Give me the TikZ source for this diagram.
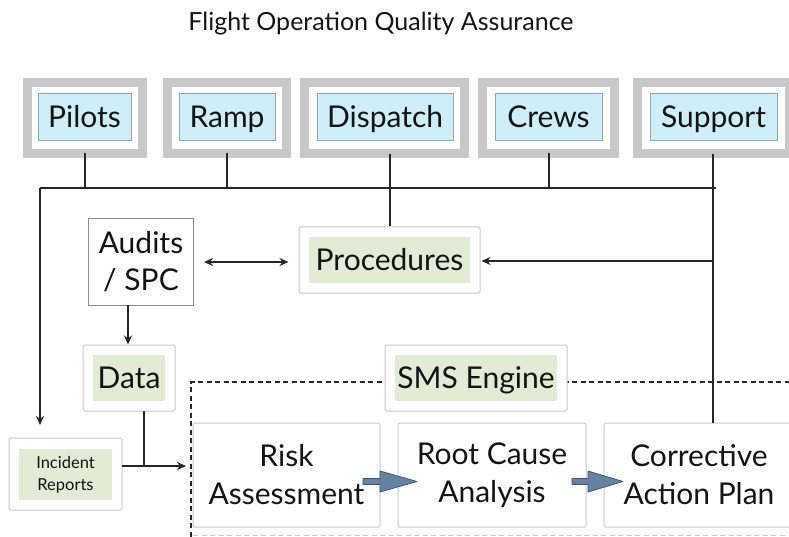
\documentclass[tikz,border=0pt]{standalone}
\usepackage{fontspec}
\setmainfont{Lato}
\usetikzlibrary{arrows.meta}
\definecolor{framegray}{HTML}{C8C8C8}
\definecolor{boxblue}{HTML}{CDEEFA}
\definecolor{bluebord}{HTML}{8FA4AC}
\definecolor{boxgreen}{HTML}{E0ECD6}
\definecolor{lightbord}{HTML}{C8C8C8}
\definecolor{audbord}{HTML}{8C8C8C}
\definecolor{linec}{HTML}{262626}
\definecolor{txtc}{HTML}{141414}
\definecolor{arrfill}{HTML}{6682A3}
\definecolor{arrdraw}{HTML}{3E5672}
\tikzset{
  every node/.style={text=txtc},
  topframe/.style={draw=framegray, line width=9pt, fill=white, inner sep=0pt},
  topinner/.style={draw=bluebord, line width=1pt, fill=boxblue, inner sep=0pt, minimum height=47pt, text height=21pt, text depth=0pt, font=\fontsize{30}{34}\selectfont},
  gbox/.style={draw=lightbord, line width=1pt, fill=white, rounded corners=1.5pt, inner sep=0pt},
  ginner/.style={fill=boxgreen, inner sep=0pt, minimum height=46pt, text height=21pt, text depth=0pt, font=\fontsize{30}{34}\selectfont},
  bigbox/.style={draw=lightbord, line width=1pt, fill=white, rounded corners=1.5pt, inner sep=0pt, minimum width=187pt, minimum height=104pt, align=center, font=\fontsize{30}{38}\selectfont},
  conn/.style={draw=linec, line width=2pt},
  arr/.style={conn, -{Stealth[length=9pt,width=8pt]}},
  blockarr/.style={fill=arrfill, draw=arrdraw, line width=0.8pt, line join=round},
}
\begin{document}
\begin{tikzpicture}[x=1pt,y=-1pt]
\useasboundingbox (0,0) rectangle (789,537);
\clip (0,0) rectangle (789,537);
\fill[white] (0,0) rectangle (789,537);

% title
\node[font=\fontsize{25}{28}\selectfont] (title) at (381,24) {Flight Operation Quality Assurance};

% top boxes
\node[topframe, minimum width=115pt, minimum height=71pt] (pilotsF) at (85,118) {};
\node[topinner, minimum width=93pt] (pilots) at (84.5,117.5) {Pilots};
\node[topframe, minimum width=119pt, minimum height=71pt] (rampF) at (227,118) {};
\node[topinner, minimum width=96pt] (ramp) at (227,117.5) {Ramp};
\node[topframe, minimum width=160pt, minimum height=71pt] (dispatchF) at (384.5,118) {};
\node[topinner, minimum width=136pt] (dispatch) at (385,117.5) {Dispatch};
\node[topframe, minimum width=132pt, minimum height=71pt] (crewsF) at (548.5,118) {};
\node[topinner, minimum width=107pt] (crews) at (548.5,117.5) {Crews};
\node[topframe, minimum width=152pt, minimum height=71pt] (supportF) at (713.5,118) {};
\node[topinner, minimum width=127pt] (support) at (713.5,117.5) {Support};

% dashed SMS region
\coordinate (dTL) at (191,382);
\coordinate (dBL) at (191,545);
\coordinate (dTR) at (800,382);
\draw[linec, line width=1.8pt, dash pattern=on 5pt off 3.5pt] (dBL) -- (dTL) -- (dTR);
\draw[lightbord, line width=1.2pt, dash pattern=on 5pt off 3.5pt] (193,535.5) -- (800,535.5);

% middle boxes
\node[draw=audbord, line width=1pt, fill=white, inner sep=0pt, minimum width=105pt, minimum height=86pt, align=center, font=\fontsize{30}{37}\selectfont] (audits) at (141,262) {Audits\\/ SPC};
\node[gbox, minimum width=181pt, minimum height=66pt] (procF) at (389.5,260) {};
\node[ginner, minimum width=161pt] (proc) at (389.5,260) {Procedures};
\node[gbox, minimum width=92pt, minimum height=66pt] (dataF) at (129,378) {};
\node[ginner, minimum width=72pt] (data) at (129,378) {Data};
\node[gbox, minimum width=113pt, minimum height=72pt] (incF) at (65.5,474) {};
\node[fill=boxgreen, inner sep=0pt, minimum width=93pt, minimum height=51pt, align=center, font=\fontsize{16.5}{22}\selectfont] (inc) at (65.5,474.5) {Incident\\Reports};
\node[gbox, minimum width=182pt, minimum height=66pt] (smsF) at (476,378) {};
\node[ginner, minimum width=162pt] (sms) at (476,378) {SMS Engine};

% bottom boxes
\node[bigbox] (risk) at (286.5,475) {Risk\\Assessment};
\node[bigbox, minimum width=188pt] (root) at (492,475) {Root Cause\\Analysis};
\node[bigbox, minimum width=190pt] (cap) at (699,475) {Corrective\\Action Plan};

% bus
\coordinate (busL) at (40,188);
\coordinate (busR) at (716,188);
\draw[conn] (busL) -- (busR);
\draw[conn] (pilotsF.south -| pilots) ++(0,-4.5) -- (pilots |- busL);
\draw[conn] (rampF.south -| ramp) ++(0,-4.5) -- (ramp |- busL);
\coordinate (dispX) at (390,154);
\draw[conn] (dispX) -- (dispX |- procF.north);
\draw[conn] (crewsF.south -| crews) ++(0,-4.5) -- (crews |- busL);
\coordinate (suppX) at (713,154);
\draw[conn] (suppX) -- (suppX |- cap.north);
\coordinate (incTop) at (40,425);
\draw[arr] (busL) -- (incTop);

% procedures links
\draw[conn, {Stealth[length=9pt,width=8pt]}-{Stealth[length=9pt,width=8pt]}] ([xshift=10pt]audits.east) -- ([xshift=-10pt]procF.west |- audits.east);
\coordinate (suppP) at (713,261);
\draw[arr] (suppP) -- ([xshift=1pt]procF.east |- suppP);

% audits to data
\coordinate (audB) at (128,305);
\draw[arr] (audB) -- (128,344.5);

% incident / data to risk
\coordinate (incR) at (122,466);
\coordinate (riskIn) at (186,466);
\coordinate (dataB) at (144,411);
\draw[arr] (incR) -- (riskIn);
\draw[conn] (dataB) -- (dataB |- incR);

% block arrows
\coordinate (a1) at (363,481.5);
\coordinate (a2) at (572,481.5);
\draw[blockarr] (a1) ++(0,-3) -- ++(17,0) -- ++(0,-7.5) -- ++(37,10.5) -- ++(-37,10.5) -- ++(0,-7.5) -- ++(-17,0) -- cycle;
\draw[blockarr] (a2) ++(0,-3) -- ++(16,0) -- ++(0,-7.5) -- ++(35,10.5) -- ++(-35,10.5) -- ++(0,-7.5) -- ++(-16,0) -- cycle;
\end{tikzpicture}
\end{document}
